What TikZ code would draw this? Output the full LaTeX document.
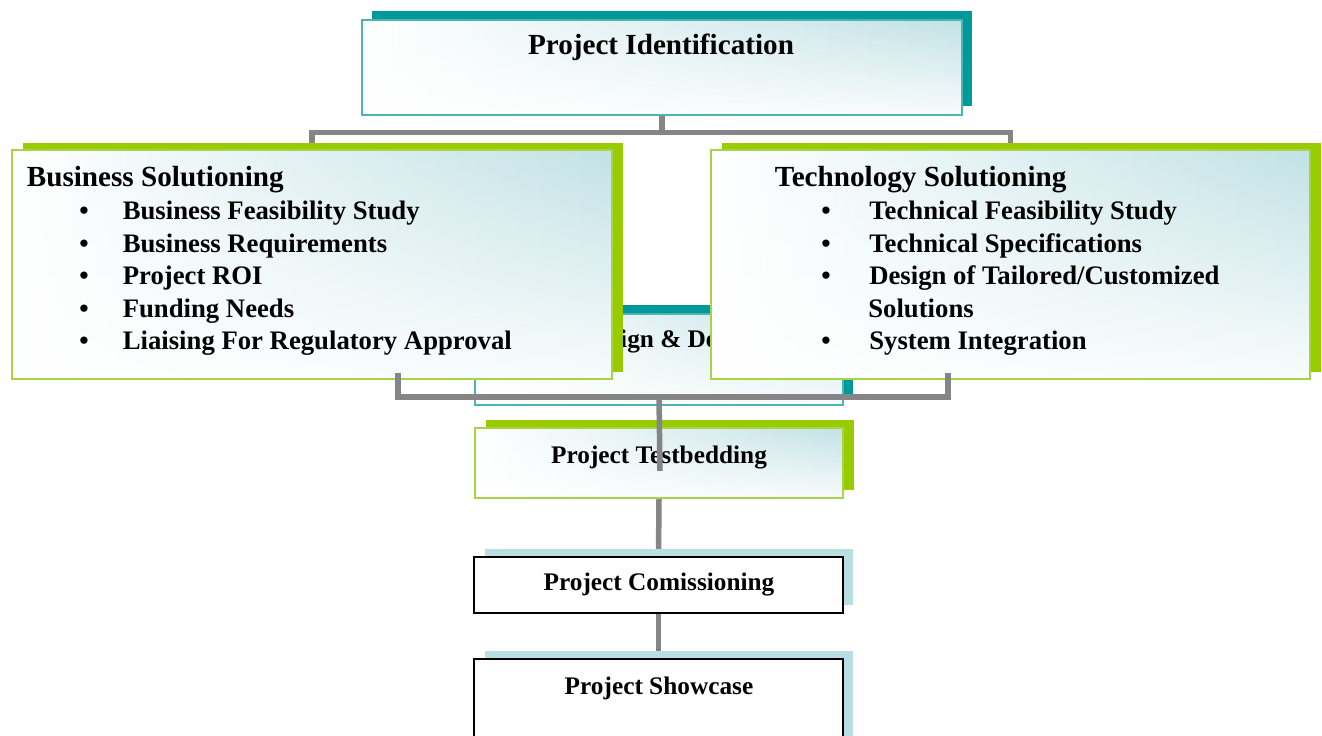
\documentclass[tikz,border=0pt]{standalone}
\usepackage{fontspec}
\setmainfont{Liberation Serif}
\usetikzlibrary{shadows,fadings}
\definecolor{cyanC}{HTML}{BCDFE3}
\definecolor{tealS}{HTML}{009999}
\definecolor{tealB}{HTML}{4DB3B3}
\definecolor{greenS}{HTML}{99CC00}
\definecolor{greenB}{HTML}{A8D444}
\definecolor{lcyan}{HTML}{B9DFE2}
\definecolor{connG}{HTML}{858585}
\pgfdeclarehorizontalshading{boxshade}{100bp}{color(0bp)=(white); color(25bp)=(white); color(80bp)=(cyanC); color(100bp)=(cyanC!80!white)}
\tikzfading[name=fadebot, top color=transparent!100, middle color=transparent!80, bottom color=transparent!10]
\pgfdeclarelayer{bg}
\pgfdeclarelayer{back}
\pgfsetlayers{bg,back,main}
\tikzset{
  gbox/.style={rectangle, inner sep=0pt, shade, shading=boxshade,
    path picture={\fill[white, path fading=fadebot] (path picture bounding box.south west) rectangle (path picture bounding box.north east);}},
  tealbox/.style={gbox, draw=tealB, line width=0.03cm, general shadow={fill=tealS, shadow xshift=0.2cm, shadow yshift=0.18cm}},
  greenbox/.style={gbox, draw=greenB, line width=0.04cm, general shadow={fill=greenS, shadow xshift=0.22cm, shadow yshift=#1}},
  greenbox/.default=0.14cm,
  plainbox/.style={rectangle, inner sep=0pt, fill=white, draw=black, line width=0.04cm, general shadow={fill=lcyan, shadow xshift=0.21cm, shadow yshift=0.16cm}},
  conn/.style={draw=connG, line width=0.11cm},
  bigtxt/.style={font=\bfseries\fontsize{16.6}{18.4}\selectfont, inner sep=0pt},
  itemtxt/.style={font=\bfseries\fontsize{15.2}{18}\selectfont, inner sep=0pt, anchor=base west},
  smalltxt/.style={font=\bfseries\fontsize{14.4}{16}\selectfont, inner sep=0pt},
}
\begin{document}
\begin{tikzpicture}[x=0.02cm,y=-0.02cm]
\useasboundingbox (0,0) rectangle (1322,736);
\clip (0,0) rectangle (1322,736);
\begin{pgfonlayer}{bg}
\fill[white] (0,0) rectangle (1322,736);
\end{pgfonlayer}

% top box
\node[tealbox, minimum width=12cm, minimum height=1.9cm] (pi) at (662,67.5) {};
\node[bigtxt, anchor=base] (pitxt) at (661,55) {Project Identification};

% design box (mostly hidden)
\node[tealbox, minimum width=7.36cm, minimum height=1.82cm] (des) at (659,359.5) {};
\node[smalltxt, anchor=base] (destxt) at (663,348) {Project Design \& Development};

% business box
\node[greenbox, minimum width=12cm, minimum height=4.58cm] (bs) at (312,264.5) {};
\node[bigtxt, anchor=base west] (bst) at (26.5,187) {Business Solutioning};
\node[itemtxt] (bs1) at (79,220) {\makebox[0.87cm][l]{•}Business Feasibility Study};
\node[itemtxt] (bs2) at (79,252.5) {\makebox[0.87cm][l]{•}Business Requirements};
\node[itemtxt] (bs3) at (79,285) {\makebox[0.87cm][l]{•}Project ROI};
\node[itemtxt] (bs4) at (79,317.5) {\makebox[0.87cm][l]{•}Funding Needs};
\node[itemtxt] (bs5) at (79,350) {\makebox[0.87cm][l]{•}Liaising For Regulatory Approval};

% technology box
\node[greenbox, minimum width=11.98cm, minimum height=4.58cm] (ts) at (1010.5,264.5) {};
\node[bigtxt, anchor=base west] (tst) at (774.6,187) {Technology Solutioning};
\node[itemtxt] (ts1) at (821,220) {\makebox[0.96cm][l]{•}Technical Feasibility Study};
\node[itemtxt] (ts2) at (821,252.5) {\makebox[0.96cm][l]{•}Technical Specifications};
\node[itemtxt] (ts3) at (821,285) {\makebox[0.96cm][l]{•}Design of Tailored/Customized};
\node[itemtxt] (ts3b) at (868,317.5) {Solutions};
\node[itemtxt] (ts4) at (821,350) {\makebox[0.96cm][l]{•}System Integration};

% testbedding
\node[greenbox=0.16cm, minimum width=7.36cm, minimum height=1.4cm] (tb) at (659,463) {};
\node[smalltxt, anchor=base] (tbtxt) at (659,463) {Project Testbedding};

% top connectors (behind)
\begin{pgfonlayer}{back}
\draw[conn] (pi.south) -- ++(0,17) coordinate (jt) -| (bs.north);
\draw[conn] (jt) -| (ts.north);
\end{pgfonlayer}

% lower connectors
\draw[conn] ([xshift=1.72cm,yshift=0.14cm]bs.south) -- ++(0,24) coordinate (jl) -| ([xshift=-1.25cm,yshift=0.14cm]ts.south);
\coordinate (jb) at (tb.north |- jl);
\coordinate (tbend) at (660,471);
\draw[conn] (jb) -- (tbend);

% commissioning and showcase
\node[plainbox, minimum width=7.38cm, minimum height=1.12cm] (cm) at (658.5,585) {};
\node[smalltxt, anchor=base] (cmtxt) at (659,590.5) {Project Comissioning};
\node[plainbox, minimum width=7.38cm, minimum height=2.22cm] (sc) at (658.5,714.5) {};
\node[smalltxt, anchor=base] (sctxt) at (659,694) {Project Showcase};

\begin{pgfonlayer}{back}
\draw[conn] (tb.south) -- (cm.north);
\draw[conn] (cm.south) -- (sc.north);
\end{pgfonlayer}
\end{tikzpicture}
\end{document}
